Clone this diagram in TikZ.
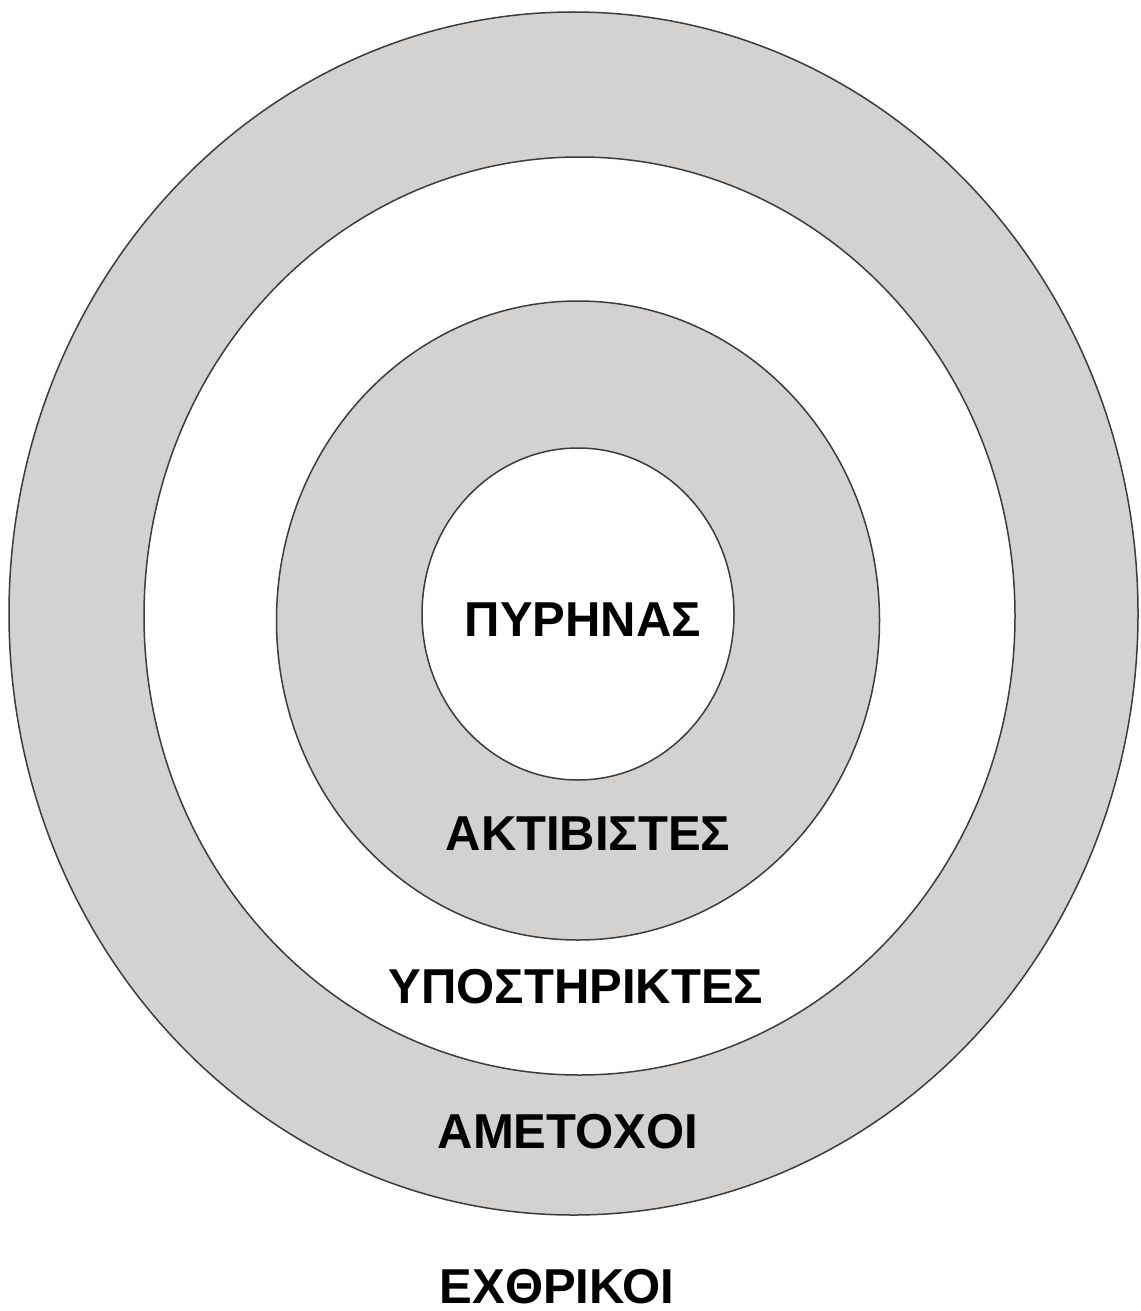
\documentclass[tikz,border=0pt]{standalone}
\usepackage{fontspec}
\setmainfont{Liberation Sans}
\begin{document}
\begin{tikzpicture}[x=1pt,y=-1pt,
  ring/.style={draw={rgb,255:red,60;green,60;blue,60}, line width=1.5pt},
  grayfill/.style={fill={rgb,255:red,211;green,210;blue,209}},
  whitefill/.style={fill=white},
  lbl/.style={font=\bfseries\fontsize{49}{49}\selectfont, anchor=base, inner sep=0pt}]
\useasboundingbox (0,0) rectangle (1140,1311);
\fill[white] (0,0) rectangle (1140,1311);
\draw[ring,grayfill] (573.5,613.5) ellipse [x radius=564.5, y radius=601.5];
\draw[ring,whitefill] (579.5,616) ellipse [x radius=435.5, y radius=459];
\draw[ring,grayfill] (578,620.5) ellipse [x radius=301.5, y radius=319.5];
\draw[ring,whitefill] (578,614) ellipse [x radius=156, y radius=166];
\node[lbl] (core) at (583,636) {ΠΥΡΗΝΑΣ};
\node[lbl] (act) at (588,850) {ΑΚΤΙΒΙΣΤΕΣ};
\node[lbl] (sup) at (576,1003) {ΥΠΟΣΤΗΡΙΚΤΕΣ};
\node[lbl] (non) at (568,1148) {ΑΜΕΤΟΧΟΙ};
\node[lbl] (ene) at (557,1303) {ΕΧΘΡΙΚΟΙ};
\end{tikzpicture}
\end{document}
